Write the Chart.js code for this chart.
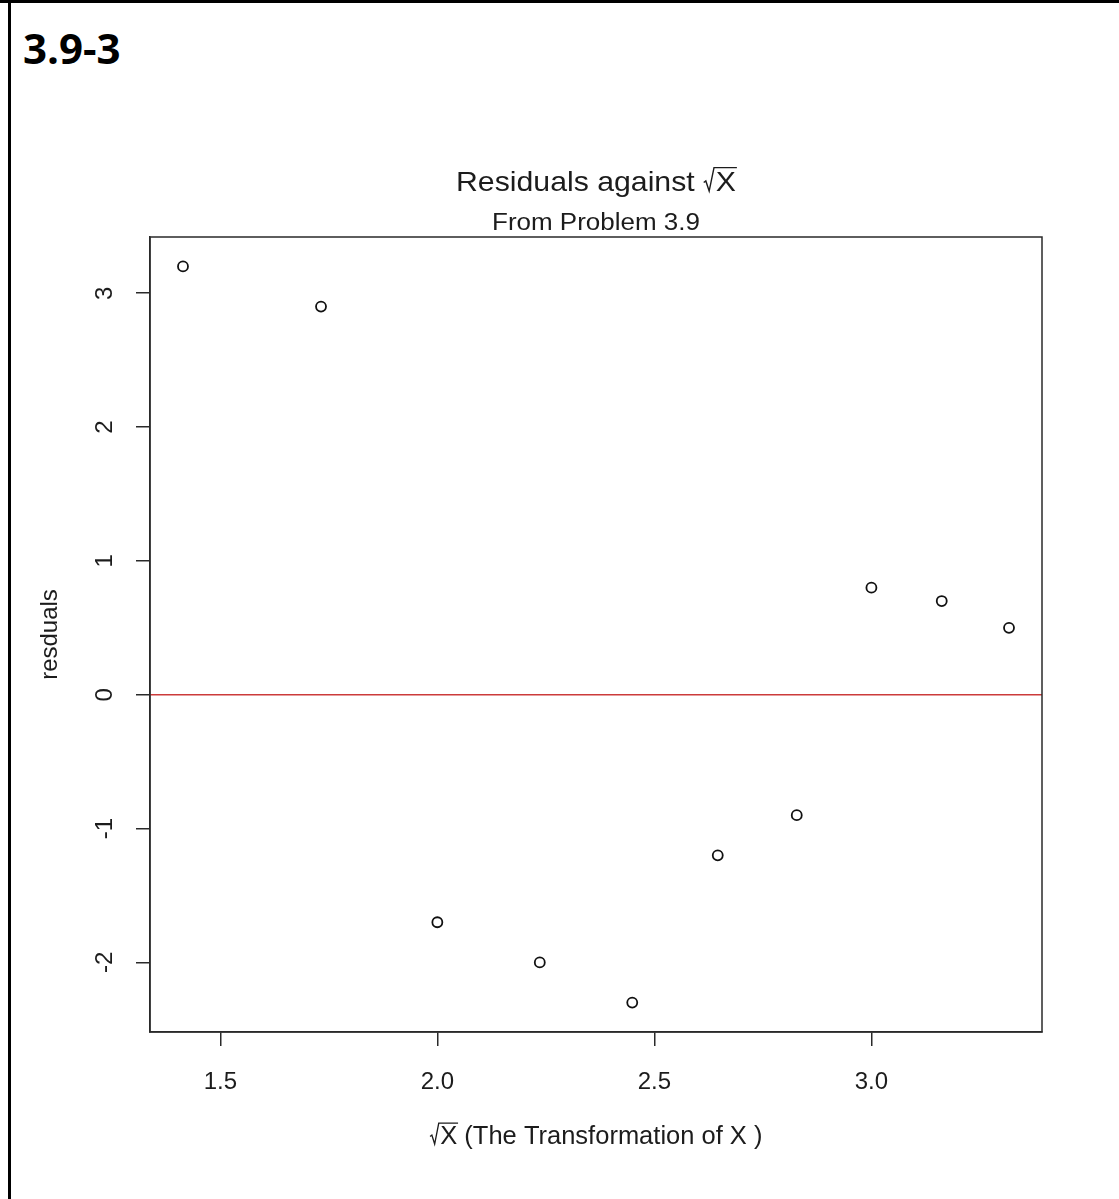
<!DOCTYPE html>
<html>
<head>
<meta charset="utf-8">
<script src="https://cdn.jsdelivr.net/npm/chart.js@4.4.1/dist/chart.umd.min.js"></script>
<style>
  html, body { margin: 0; padding: 0; background: #fff; }
  #page { position: relative; width: 1119px; height: 1199px; overflow: hidden; }
  #frameTop { position: absolute; left: 0; top: 0; width: 1119px; height: 3px; background: #000; }
  #frameLeft { position: absolute; left: 8px; top: 0; width: 3px; height: 1199px; background: #000; }
  #heading { position: absolute; left: 23px; top: 27px; font: bold 42px 'Open Sans', sans-serif; line-height: 1; color: #000; }
  #plot { position: absolute; left: 0; top: 0; }
</style>
</head>
<body>
<div id="page">
  <div id="frameTop"></div>
  <div id="frameLeft"></div>
  <div id="heading">3.9-3</div>
  <canvas id="plot" width="1119" height="1199"></canvas>
</div>
<script>
// --- data ---
const sqrtX = [1.414, 1.732, 2.000, 2.236, 2.449, 2.646, 2.828, 3.000, 3.162, 3.317];
const residuals = [3.2, 2.9, -1.7, -2.0, -2.3, -1.2, -0.9, 0.8, 0.7, 0.5];
const xTicks = [1.5, 2.0, 2.5, 3.0];
const xTickLabels = ['1.5', '2.0', '2.5', '3.0'];
const yTicks = [-2, -1, 0, 1, 2, 3];
const yTickLabels = ['-2', '-1', '0', '1', '2', '3'];
const xRange = [1.338, 3.393];
const yRange = [-2.52, 3.42];
const zeroLine = 0;

const titleMain = 'Residuals against ';
const titleSub = 'From Problem 3.9';
const xTitleRest = ' (The Transformation of X )';
const yTitle = 'resduals';

const FONT = "'Liberation Sans', Arial, sans-serif";
const INK = '#1c1c1c';

// draws prefix + sqrt(X) + suffix centred on cx, with R-style radical
function drawSqrtLabel(ctx, cx, base, size, stretch, prefix, suffix) {
    ctx.save();
    ctx.font = `${size}px ${FONT}`;
    ctx.fillStyle = INK;
    ctx.strokeStyle = INK;
    ctx.textBaseline = 'alphabetic';
    ctx.textAlign = 'left';
    const capH = size * 0.716;
    const radW = size * 0.42;
    const wPre = ctx.measureText(prefix).width;
    const wX = ctx.measureText('X').width;
    const wSuf = ctx.measureText(suffix).width;
    const total = (wPre + radW + wX + wSuf) * stretch;
    ctx.translate(cx - total / 2, base);
    ctx.scale(stretch, 1);
    ctx.fillText(prefix, 0, 0);
    const x0 = wPre;
    const top = -capH - size * 0.12;
    ctx.lineWidth = 1.3;
    ctx.beginPath();
    ctx.moveTo(x0 + size * 0.02, -capH * 0.42);
    ctx.lineTo(x0 + size * 0.09, -capH * 0.5);
    ctx.lineTo(x0 + size * 0.2, 0);
    ctx.lineTo(x0 + size * 0.36, top);
    ctx.lineTo(x0 + radW + wX + size * 0.03, top);
    ctx.stroke();
    ctx.fillText('X', x0 + radW, 0);
    ctx.fillText(suffix, x0 + radW + wX, 0);
    ctx.restore();
}

const rPlotDecor = {
    id: 'rPlotDecor',
    beforeDatasetsDraw(chart) {
        const { ctx, chartArea: a, scales } = chart;
        const y0 = scales.y.getPixelForValue(zeroLine);
        ctx.save();
        ctx.strokeStyle = '#cc3b3b';
        ctx.lineWidth = 1.5;
        ctx.beginPath();
        ctx.moveTo(a.left, y0);
        ctx.lineTo(a.right, y0);
        ctx.stroke();
        ctx.restore();
    },
    afterDraw(chart) {
        const { ctx, chartArea: a, scales } = chart;
        ctx.save();
        // box round the plot region
        ctx.strokeStyle = '#2a2a2a';
        ctx.lineWidth = 1.5;
        ctx.strokeRect(a.left, a.top, a.right - a.left, a.bottom - a.top);

        ctx.fillStyle = INK;
        ctx.font = `24px ${FONT}`;
        // x tick labels
        ctx.textAlign = 'center';
        ctx.textBaseline = 'alphabetic';
        xTicks.forEach((v, i) => {
            ctx.fillText(xTickLabels[i], scales.x.getPixelForValue(v), 1089);
        });
        // y tick labels, parallel to the axis
        yTicks.forEach((v, i) => {
            ctx.save();
            ctx.translate(112, scales.y.getPixelForValue(v));
            ctx.rotate(-Math.PI / 2);
            ctx.fillText(yTickLabels[i], 0, 0);
            ctx.restore();
        });
        // y axis title
        ctx.save();
        ctx.translate(57, (a.top + a.bottom) / 2);
        ctx.rotate(-Math.PI / 2);
        ctx.fillText(yTitle, 0, 0);
        ctx.restore();

        const cx = (a.left + a.right) / 2;
        // subtitle
        ctx.save();
        ctx.font = `23px ${FONT}`;
        ctx.translate(cx, 230);
        ctx.scale(1.13, 1);
        ctx.fillText(titleSub, 0, 0);
        ctx.restore();
        ctx.restore();

        drawSqrtLabel(ctx, cx, 191, 28, 1.08, titleMain, '');
        drawSqrtLabel(ctx, cx, 1144, 25, 1.02, '', xTitleRest);
    }
};

new Chart(document.getElementById('plot'), {
    type: 'scatter',
    data: {
        datasets: [{
            label: 'residuals',
            data: sqrtX.map((x, i) => ({ x, y: residuals[i] })),
            pointStyle: 'circle',
            pointRadius: 5,
            pointHoverRadius: 5,
            borderWidth: 1.8,
            borderColor: '#111',
            backgroundColor: 'rgba(255,255,255,0)'
        }]
    },
    options: {
        responsive: false,
        animation: false,
        devicePixelRatio: 1,
        layout: { padding: { left: 0, top: 237, right: 77, bottom: 0 } },
        plugins: { legend: { display: false }, tooltip: { enabled: false }, title: { display: false } },
        scales: {
            x: {
                type: 'linear',
                min: xRange[0],
                max: xRange[1],
                afterBuildTicks: s => { s.ticks = xTicks.map(v => ({ value: v })); },
                afterFit: s => { s.height = 167; },
                ticks: { display: false },
                grid: { drawOnChartArea: false, drawTicks: true, tickLength: 14, color: '#2a2a2a', lineWidth: 1.5 },
                border: { display: true, color: '#2a2a2a', width: 1.5 }
            },
            y: {
                type: 'linear',
                min: yRange[0],
                max: yRange[1],
                afterBuildTicks: s => { s.ticks = yTicks.map(v => ({ value: v })); },
                afterFit: s => { s.width = 150; },
                ticks: { display: false },
                grid: { drawOnChartArea: false, drawTicks: true, tickLength: 14, color: '#2a2a2a', lineWidth: 1.5 },
                border: { display: true, color: '#2a2a2a', width: 1.5 }
            }
        }
    },
    plugins: [rPlotDecor]
});
</script>
</body>
</html>
